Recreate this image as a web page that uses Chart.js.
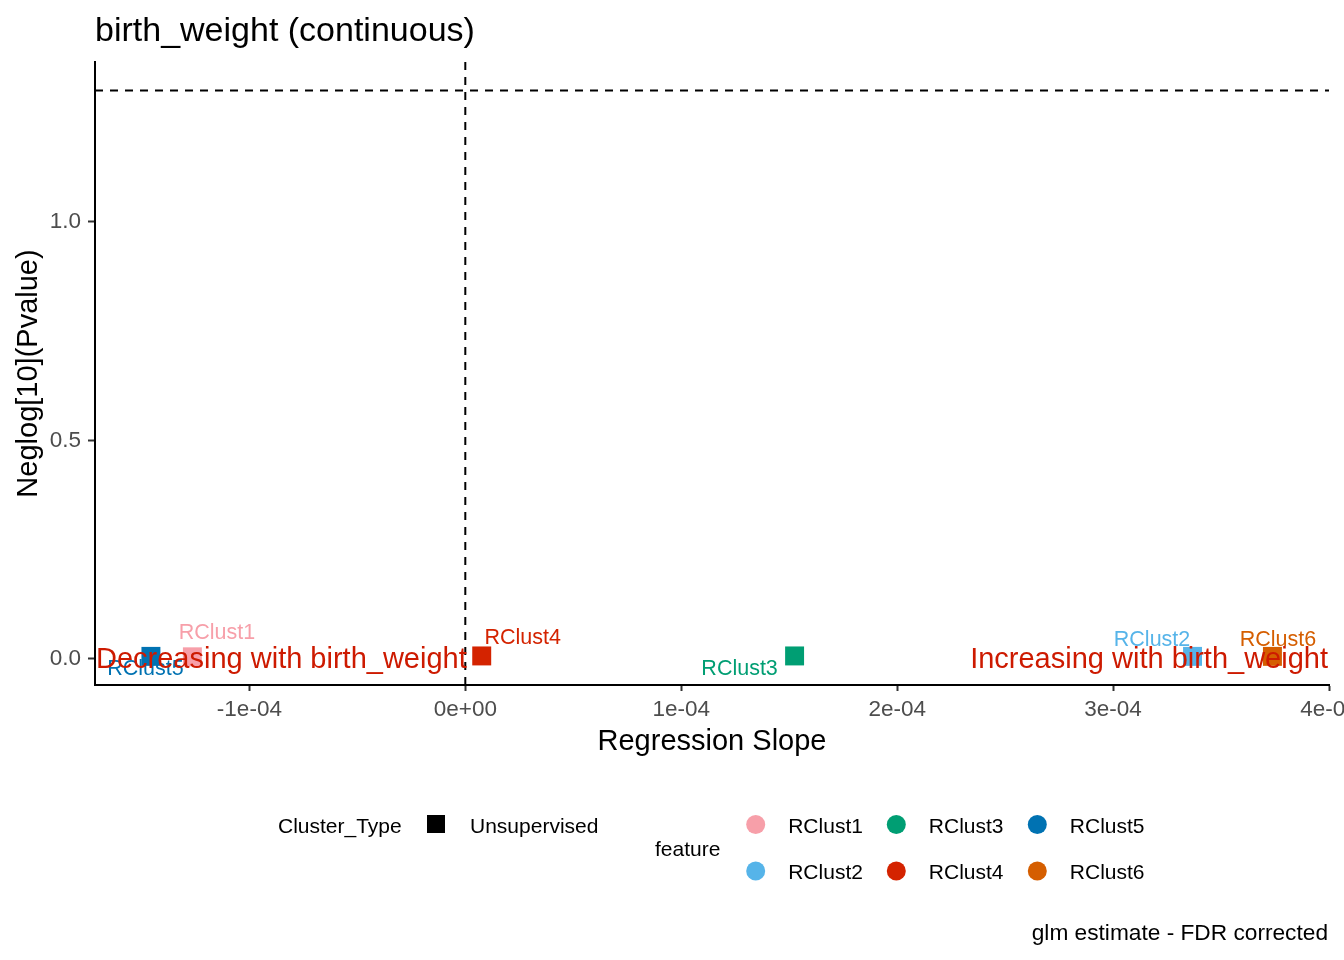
<!DOCTYPE html>
<html>
<head>
<meta charset="utf-8">
<script src="https://cdn.jsdelivr.net/npm/chart.js@4.4.0/dist/chart.umd.min.js"></script>
<style>
html,body{margin:0;padding:0;background:#fff;}
#wrap{width:1344px;height:960px;position:relative;}
</style>
</head>
<body>
<div id="wrap"><canvas id="c" width="1344" height="960"></canvas></div>
<script>
// ---- data ----
const features = ['RClust1','RClust2','RClust3','RClust4','RClust5','RClust6'];
const slopes = [-1.264e-4, 3.368e-4, 1.525e-4, 0.076e-4, -1.456e-4, 3.738e-4];
const negLogP = [0.005, 0.006, 0.007, 0.007, 0.006, 0.006];
const featureColors = ['#F79FA9','#56B4E9','#009E73','#D42300','#0072B2','#D55E00'];
const xTickValues = [-1e-4, 0, 1e-4, 2e-4, 3e-4, 4e-4];
const xTickLabels = ['-1e-04','0e+00','1e-04','2e-04','3e-04','4e-04'];
const yTickValues = [0, 0.5, 1.0];
const yTickLabels = ['0.0','0.5','1.0'];
const xRange = [-1.715e-4, 4.0e-4];
const yRange = [-0.0595, 1.366];
const pThreshold = -Math.log10(0.05);
const slopeZero = 0;
const clusterTypes = ['Unsupervised'];

// ---- styling / layout (not data) ----
const FAMILY = '"Liberation Sans", Arial, Helvetica, sans-serif';
const labelOffsets = [[24.5,-26],[-40.5,-18.5],[-55,11.5],[41,-19.5],[-5.5,11],[5.5,-18.5]];

const datasets = [];
datasets.push({
  type:'line', label:'vline', showLine:true,
  data:[{x:slopeZero,y:yRange[0]},{x:slopeZero,y:yRange[1]}],
  borderColor:'#000', borderWidth:2, borderDash:[8,7], pointRadius:0, fill:false, order:5
});
datasets.push({
  type:'line', label:'hline', showLine:true,
  data:[{x:xRange[0],y:pThreshold},{x:xRange[1],y:pThreshold}],
  borderColor:'#000', borderWidth:2, borderDash:[8,7], pointRadius:0, fill:false, order:5
});
features.forEach((f,i)=>{
  datasets.push({
    type:'scatter', label:f,
    data:[{x:slopes[i], y:negLogP[i]}],
    backgroundColor:featureColors[i], borderWidth:0,
    pointStyle:'rect', pointRadius:13.4, pointHoverRadius:13.4, order:1
  });
});

const textPlugin = {
  id:'textPlugin',
  afterDatasetsDraw(chart){
    const ctx = chart.ctx;
    const xs = chart.scales.x, ys = chart.scales.y;
    ctx.save();
    // point labels
    ctx.font = '21.5px ' + FAMILY;
    ctx.textAlign = 'center';
    ctx.textBaseline = 'alphabetic';
    features.forEach((f,i)=>{
      const px = xs.getPixelForValue(slopes[i]) + labelOffsets[i][0];
      const py = ys.getPixelForValue(negLogP[i]) + labelOffsets[i][1];
      ctx.fillStyle = featureColors[i];
      ctx.fillText(f, px, py + 7.7);
    });
    // direction annotations
    ctx.font = '29px ' + FAMILY;
    ctx.fillStyle = '#CD1A00';
    const by = ys.getPixelForValue(0) + 9.5;
    ctx.textAlign = 'left';
    ctx.fillText('Decreasing with birth_weight', xs.getPixelForValue(xRange[0]) + 1, by);
    ctx.textAlign = 'right';
    ctx.fillText('Increasing with birth_weight', xs.getPixelForValue(xRange[1]) - 1, by);
    ctx.restore();
  },
  afterDraw(chart){
    const ctx = chart.ctx;
    ctx.save();
    ctx.textBaseline = 'alphabetic';
    // title
    ctx.fillStyle = '#000';
    ctx.font = '34px ' + FAMILY;
    ctx.textAlign = 'left';
    ctx.fillText('birth_weight (continuous)', chart.chartArea.left, 41);
    // legend: Cluster_Type
    ctx.font = '21px ' + FAMILY;
    ctx.fillText('Cluster_Type', 278, 832.5);
    ctx.fillRect(427, 815, 18, 18);
    ctx.fillText(clusterTypes[0], 470, 832.5);
    // legend: feature
    ctx.fillText('feature', 655, 856);
    const colX = [755.7, 896.3, 1037.3];
    const rowY = [824.5, 871];
    features.forEach((f,i)=>{
      const cx = colX[Math.floor(i/2)], cy = rowY[i%2];
      ctx.fillStyle = featureColors[i];
      ctx.beginPath();
      ctx.arc(cx, cy, 9.5, 0, Math.PI*2);
      ctx.fill();
      ctx.fillStyle = '#000';
      ctx.fillText(f, cx + 32.5, cy + 8);
    });
    // caption
    ctx.font = '22.7px ' + FAMILY;
    ctx.textAlign = 'right';
    ctx.fillText('glm estimate - FDR corrected', 1328, 940);
    ctx.restore();
  }
};

new Chart(document.getElementById('c'), {
  type:'scatter',
  data:{ datasets },
  plugins:[textPlugin],
  options:{
    responsive:false,
    devicePixelRatio:1,
    animation:false,
    events:[],
    layout:{ padding:{ top:62, left:0, right:15, bottom:200 } },
    plugins:{ legend:{display:false}, tooltip:{enabled:false}, title:{display:false} },
    scales:{
      x:{
        type:'linear', position:'bottom', min:xRange[0], max:xRange[1],
        afterBuildTicks:(s)=>{ s.ticks = xTickValues.map(v=>({value:v})); },
        afterFit:(s)=>{ s.height = 75; s.paddingLeft = 0; s.paddingRight = 0; },
        ticks:{ callback:(v,i)=>xTickLabels[i], color:'#4D4D4D', font:{family:FAMILY, size:22.5}, padding:5, maxRotation:0, autoSkip:false },
        grid:{ display:true, drawOnChartArea:false, drawTicks:true, tickLength:6, tickWidth:2, tickColor:'#333333' },
        border:{ display:true, color:'#000', width:2 },
        title:{ display:true, text:'Regression Slope', color:'#000', font:{family:FAMILY, size:29}, padding:{top:0, bottom:1} }
      },
      y:{
        type:'linear', position:'left', min:yRange[0], max:yRange[1],
        afterBuildTicks:(s)=>{ s.ticks = yTickValues.map(v=>({value:v})); },
        afterFit:(s)=>{ s.width = 95; s.paddingTop = 0; s.paddingBottom = 0; },
        ticks:{ callback:(v,i)=>yTickLabels[i], color:'#4D4D4D', font:{family:FAMILY, size:22.5}, padding:7, autoSkip:false },
        grid:{ display:true, drawOnChartArea:false, drawTicks:true, tickLength:7, tickWidth:2, tickColor:'#333333' },
        border:{ display:true, color:'#000', width:2 },
        title:{ display:true, text:'Neglog[10](Pvalue)', color:'#000', font:{family:FAMILY, size:29}, padding:{top:12, bottom:0} }
      }
    }
  }
});
</script>
</body>
</html>
